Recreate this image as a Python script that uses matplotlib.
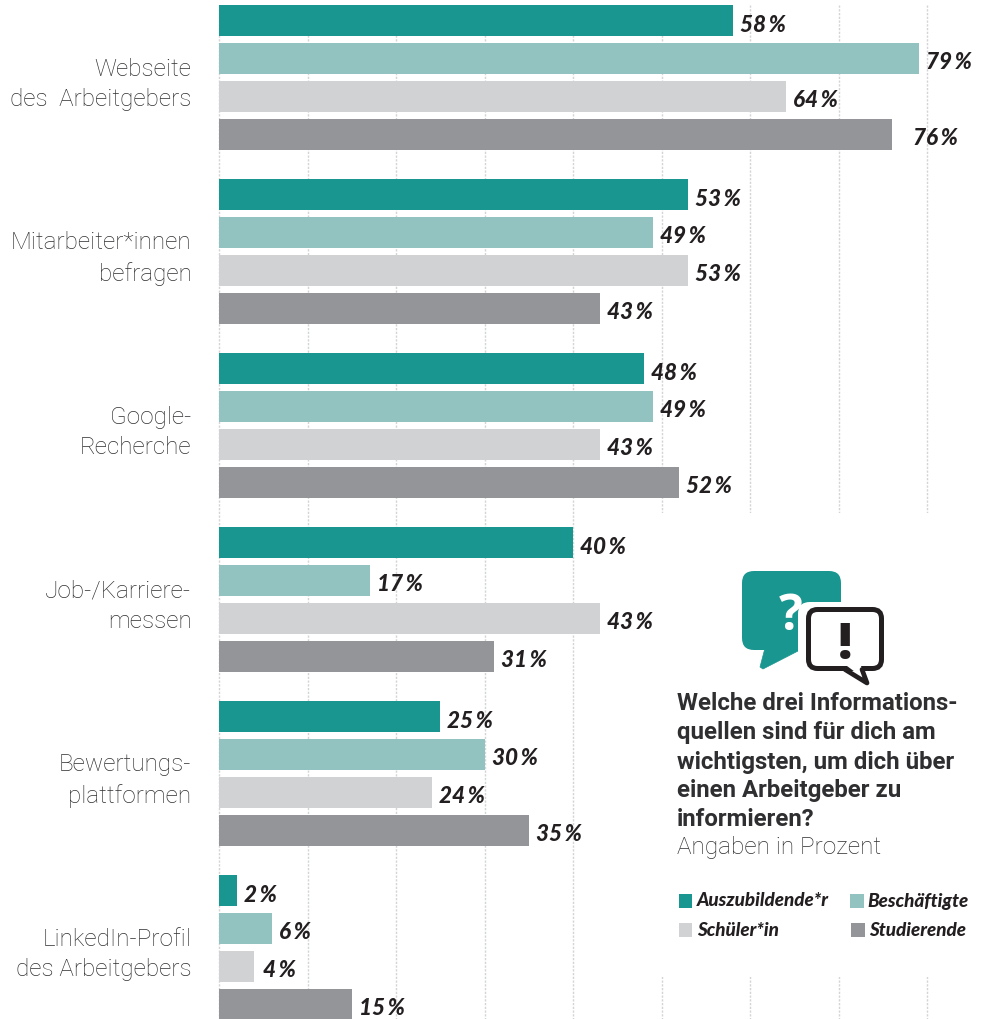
import matplotlib
matplotlib.use("Agg")
import matplotlib.pyplot as plt
from matplotlib.patches import FancyBboxPatch, Polygon, Rectangle

categories = ["Webseite\ndes  Arbeitgebers", "Mitarbeiter*innen\nbefragen", "Google-\nRecherche",
              "Job-/Karriere-\nmessen", "Bewertungs-\nplattformen", "LinkedIn-Profil\ndes Arbeitgebers"]
auszubildende = [58, 53, 48, 40, 25, 2]
beschaeftigte = [79, 49, 49, 17, 30, 6]
schueler = [64, 53, 43, 43, 24, 4]
studierende = [76, 43, 52, 31, 35, 15]
series_names = ["Auszubildende*r", "Beschäftigte", "Schüler*in", "Studierende"]
series = [auszubildende, beschaeftigte, schueler, studierende]
colors = ["#1a9691", "#92c3c0", "#d1d2d4", "#949599"]
ticks = [0, 10, 20, 30, 40, 50, 60, 70, 80]

W, H = 984, 1019
fig = plt.figure(figsize=(W / 100, H / 100), dpi=100, facecolor="white")
ax = fig.add_axes([0, 0, 1, 1])
PX = 8.855
ORIGIN = 219.0
ax.set_xlim(-ORIGIN / PX, (W - ORIGIN) / PX)
ax.set_ylim(H, 0)
ax.axis("off")

SCRIPT = dict(family="Lato", style="italic", weight="black", color="#231f20")
TEXT = "#2f2f31"

for t in ticks:
    ax.plot([t, t], [5, H], color="#d3d4d6", lw=1.0, ls=(0, (1.6, 1.1)), zorder=1)

# white panel behind the question block
ax.add_patch(Rectangle((440 / PX, 513), W, 464, color="white", zorder=1.5, lw=0))

GROUP = 174
STEP = 37.95
TOP = 20.5
BAR_H = 31
LABEL_SHIFT = {(0, 3): 14, (5, 2): 2}
for g, cat in enumerate(categories):
    y0 = TOP + g * GROUP
    ax.text(-27.5 / PX, y0 + 64, cat, ha="right", va="center", family="Roboto", weight="light",
            fontsize=17.5, color=TEXT, linespacing=1.40, zorder=4)
    for i, vals in enumerate(series):
        v = vals[g]
        y = y0 + i * STEP
        ax.barh(y, v, height=BAR_H, color=colors[i], zorder=2, lw=0)
        dx = (7 + LABEL_SHIFT.get((g, i), 0)) / PX
        ax.text(v + dx, y + 4.5, f"{v}\u2009%", ha="left", va="center", fontsize=16.2, zorder=4, **SCRIPT)

# overlay in pixel coordinates for the icon and the text block
ov = fig.add_axes([0, 0, 1, 1])
ov.set_xlim(0, W)
ov.set_ylim(H, 0)
ov.axis("off")
ov.patch.set_alpha(0)

teal = colors[0]
INK = "#231f20"
ov.add_patch(FancyBboxPatch((742, 571), 99, 79, boxstyle="round,pad=0,rounding_size=12", fc=teal, lw=0))
ov.add_patch(Polygon([[765, 648], [760, 667], [763, 669], [800, 650]], fc=teal, ec=teal, lw=0.5))
ov.add_patch(FancyBboxPatch((798, 602), 92, 84, boxstyle="round,pad=0,rounding_size=12", fc="white", lw=0, zorder=2))
ov.add_patch(FancyBboxPatch((808.5, 609.5), 73, 59, boxstyle="round,pad=0,rounding_size=9", fc="white", ec=INK, lw=3.6, zorder=3))
ov.add_patch(Polygon([[847, 666], [866, 680], [861, 666]], fc="white", lw=0, zorder=3.1))
ov.plot([845, 867, 862], [669.5, 683, 669.5], color=INK, lw=3.4, solid_capstyle="round", solid_joinstyle="round", zorder=3.2)
ov.text(791, 611, "?", ha="center", va="center_baseline", family="Open Sans", weight="bold", fontsize=36, color="white", zorder=1.5)
ov.text(845, 640, "!", ha="center", va="center_baseline", family="Open Sans", weight="extra bold", fontsize=36, color=INK, zorder=4)

title = ["Welche drei Informations-", "quellen sind für dich am", "wichtigsten, um dich über",
         "einen Arbeitgeber zu", "informieren?"]
for i, line in enumerate(title):
    ov.text(677, 704 + i * 29, line, ha="left", va="center", family="Roboto", weight="bold",
            fontsize=17.3, color=TEXT)
ov.text(677, 847.5, "Angaben in Prozent", ha="left", va="center", family="Roboto", weight="light",
        fontsize=17.6, color=TEXT)

legend_pos = [(678.5, 894), (850, 894), (678.5, 923), (851, 923)]
legend_gap = [18.5, 17, 18.5, 18]
for (x, y), gap, name, c in zip(legend_pos, legend_gap, series_names, colors):
    ov.add_patch(Rectangle((x, y), 13.5, 13.5, fc=c, lw=0))
    ov.text(x + gap, y + 7, name, ha="left", va="center", fontsize=13.6, **SCRIPT)

fig.savefig("out.png", dpi=100)
